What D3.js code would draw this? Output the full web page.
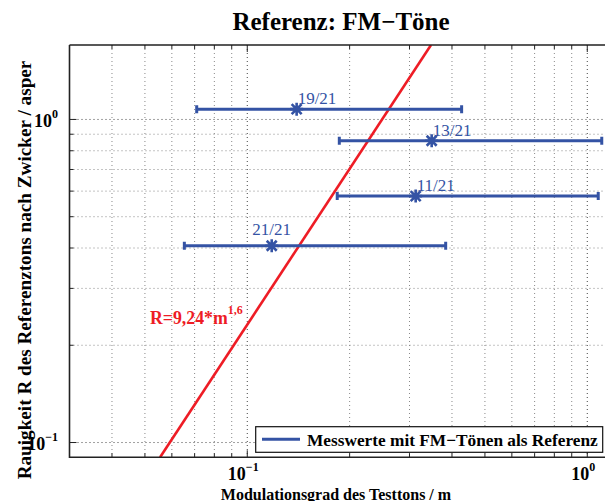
<!DOCTYPE html>
<html>
<head>
<meta charset="utf-8">
<script src="https://d3js.org/d3.v7.min.js"></script>
<style>
  body { margin: 0; background: #fff; }
  svg { display: block; font-family: "Liberation Serif", "Times New Roman", serif; }
</style>
</head>
<body>
<script>
// measured values (modulation depth m, roughness R)
var labels = ["19/21", "13/21", "11/21", "21/21"];
var mValues = [0.1397, 0.3486, 0.3128, 0.118];
var rValues = [1.076, 0.859, 0.579, 0.4065];
var mLow = [0.071, 0.1865, 0.1839, 0.0653];
var mHigh = [0.427, 1.103, 1.077, 0.3833];

// fitted line R = 9,24*m^1,6 (end points)
var fitM = [0.0554, 0.347];
var fitR = [0.09, 1.7];

// axis ticks
var decadeTicks = [0.1, 1];
var xGrid = [0.04, 0.05, 0.06, 0.07, 0.08, 0.09, 0.1, 0.2, 0.3, 0.4, 0.5, 0.6, 0.7, 0.8, 0.9, 1];
var yGrid = [0.1, 0.2, 0.3, 0.4, 0.5, 0.6, 0.7, 0.8, 0.9, 1];

var dim = { w: 605, h: 501, left: 69.5, right: 614.2, top: 45, bottom: 457.3 };
var blue = "#3453a4";
var red = "#ee1c25";

var svg = d3.select("body").append("svg")
  .attr("width", dim.w)
  .attr("height", dim.h);

var xScale = d3.scaleLog().domain([0.03, 1.2]).range([dim.left, dim.right]);
var yScale = d3.scaleLog().domain([0.09, 1.7]).range([dim.bottom, dim.top]);

// clip for the plot area
svg.append("clipPath").attr("id", "plotclip")
  .append("rect")
  .attr("x", dim.left).attr("y", dim.top)
  .attr("width", dim.right - dim.left).attr("height", dim.bottom - dim.top);

// grid lines
var grid = svg.append("g");
grid.selectAll(".vg").data(xGrid).enter().append("line")
  .attr("x1", function(d) { return xScale(d); })
  .attr("x2", function(d) { return xScale(d); })
  .attr("y1", dim.top).attr("y2", dim.bottom)
  .attr("stroke", function(d) { return decadeTicks.indexOf(d) >= 0 ? "#444" : "#888"; })
  .attr("stroke-width", 1)
  .attr("stroke-dasharray", "1,3");
grid.selectAll(".hg").data(yGrid).enter().append("line")
  .attr("y1", function(d) { return yScale(d); })
  .attr("y2", function(d) { return yScale(d); })
  .attr("x1", dim.left).attr("x2", dim.right)
  .attr("stroke", function(d) { return decadeTicks.indexOf(d) >= 0 ? "#444" : "#888"; })
  .attr("stroke-width", 1)
  .attr("stroke-dasharray", "1,3");

// inner tick marks
var ticks = svg.append("g").attr("stroke", "#222").attr("stroke-width", 1);
xGrid.forEach(function(d) {
  var len = decadeTicks.indexOf(d) >= 0 ? 7 : 4;
  ticks.append("line").attr("x1", xScale(d)).attr("x2", xScale(d))
    .attr("y1", dim.bottom).attr("y2", dim.bottom - len);
  ticks.append("line").attr("x1", xScale(d)).attr("x2", xScale(d))
    .attr("y1", dim.top).attr("y2", dim.top + len);
});
yGrid.forEach(function(d) {
  var len = decadeTicks.indexOf(d) >= 0 ? 7 : 4;
  ticks.append("line").attr("y1", yScale(d)).attr("y2", yScale(d))
    .attr("x1", dim.left).attr("x2", dim.left + len);
});

// fitted red line
svg.append("path")
  .attr("clip-path", "url(#plotclip)")
  .attr("d", d3.line()(fitM.map(function(d, i) { return [xScale(d), yScale(fitR[i])]; })))
  .attr("stroke", red)
  .attr("stroke-width", 2.6)
  .attr("fill", "none");

// error bars
var bars = svg.append("g").attr("clip-path", "url(#plotclip)")
  .attr("stroke", blue).attr("stroke-width", 3).attr("fill", "none");
mValues.forEach(function(m, i) {
  var y = yScale(rValues[i]);
  bars.append("line").attr("x1", xScale(mLow[i])).attr("x2", xScale(mHigh[i]))
    .attr("y1", y).attr("y2", y);
  bars.append("line").attr("x1", xScale(mLow[i])).attr("x2", xScale(mLow[i]))
    .attr("y1", y - 4).attr("y2", y + 4);
  bars.append("line").attr("x1", xScale(mHigh[i])).attr("x2", xScale(mHigh[i]))
    .attr("y1", y - 4).attr("y2", y + 4);

  // asterisk marker
  var cx = xScale(m), s = 6.5, sd = 5;
  bars.append("path")
    .attr("stroke-width", 2.6)
    .attr("d", "M" + cx + "," + (y - s) + "V" + (y + s) +
      "M" + (cx - s) + "," + y + "H" + (cx + s) +
      "M" + (cx - sd) + "," + (y - sd) + "L" + (cx + sd) + "," + (y + sd) +
      "M" + (cx - sd) + "," + (y + sd) + "L" + (cx + sd) + "," + (y - sd));
});

// point labels
svg.selectAll(".plabel").data(labels).enter().append("text")
  .attr("x", function(d, i) { return i == 3 ? xScale(mValues[i]) : xScale(mValues[i]) + 1; })
  .attr("y", function(d, i) { return yScale(rValues[i]) - (i == 3 ? 11 : 5); })
  .attr("text-anchor", function(d, i) { return i == 3 ? "middle" : "start"; })
  .attr("fill", blue)
  .style("font-size", "17px")
  .text(function(d) { return d; });

// fit formula
var fitText = svg.append("text")
  .attr("x", 150).attr("y", 323.5)
  .attr("fill", red)
  .style("font-size", "17.8px")
  .style("font-weight", "bold");
fitText.append("tspan").text("R=9,24*m");
fitText.append("tspan").attr("dy", -10).style("font-size", "12px").text("1,6");

// axes frame
svg.append("path")
  .attr("d", "M" + dim.left + "," + dim.top + "V" + dim.bottom + "H" + dim.right +
    "M" + dim.left + "," + dim.top + "H" + dim.right)
  .attr("stroke", "#222").attr("stroke-width", 1.6).attr("fill", "none");

// tick labels
var exps = ["\u22121", "0"];
decadeTicks.forEach(function(d, i) {
  var tx = svg.append("text")
    .attr("x", xScale(d) - 4).attr("y", 480)
    .attr("text-anchor", "middle")
    .style("font-size", "18px").style("font-weight", "bold");
  tx.append("tspan").text("10");
  tx.append("tspan").attr("dy", -9).style("font-size", "12px").text(exps[i]);

  var ty = svg.append("text")
    .attr("x", 58).attr("y", yScale(d) + 7.5)
    .attr("text-anchor", "end")
    .style("font-size", "18px").style("font-weight", "bold");
  ty.append("tspan").text("10");
  ty.append("tspan").attr("dy", -9).style("font-size", "12px").text(exps[i]);
});

// legend
var legend = svg.append("g");
legend.append("rect")
  .attr("x", 255.7).attr("y", 426.7).attr("width", 347).attr("height", 25.6)
  .attr("fill", "#fff").attr("stroke", "#111").attr("stroke-width", 1.2);
legend.append("line")
  .attr("x1", 262).attr("x2", 300).attr("y1", 439.3).attr("y2", 439.3)
  .attr("stroke", blue).attr("stroke-width", 3);
legend.append("text")
  .attr("x", 307).attr("y", 445.5)
  .style("font-size", "17.3px").style("font-weight", "bold")
  .text("Messwerte mit FM\u2212Tönen als Referenz");

// title and axis labels
svg.append("text")
  .attr("x", 341).attr("y", 30)
  .attr("text-anchor", "middle")
  .style("font-size", "25px").style("font-weight", "bold")
  .text("Referenz: FM\u2212Töne");

svg.append("text")
  .attr("x", 336).attr("y", 499.5)
  .attr("text-anchor", "middle")
  .style("font-size", "16px").style("font-weight", "bold")
  .text("Modulationsgrad des Testtons / m");

svg.append("text")
  .attr("transform", "translate(31,270) rotate(-90)")
  .attr("text-anchor", "middle")
  .style("font-size", "19.2px").style("font-weight", "bold")
  .text("Rauigkeit R des Referenztons nach Zwicker / asper");
</script>
</body>
</html>
